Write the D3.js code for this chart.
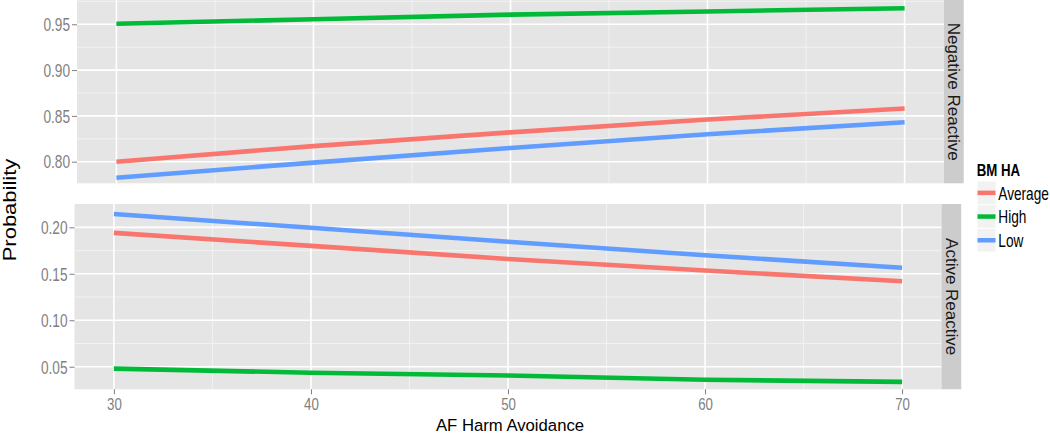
<!DOCTYPE html>
<html><head><meta charset="utf-8">
<script src="https://cdn.jsdelivr.net/npm/d3@7"></script>
<style>body{margin:0;background:#fff}svg{display:block}text{font-family:"Liberation Sans",Arial,sans-serif}</style>
</head><body>
<svg id="chart" width="1050" height="435"></svg>
<script>
// ---- data ----
const xValues = [30, 40, 50, 60, 70];
const groups = ["Average", "High", "Low"];
const groupColors = ["#F8766D", "#00BA38", "#619CFF"];
const facets = ["Negative Reactive", "Active Reactive"];
// Negative Reactive panel
const negAverage = [0.800, 0.817, 0.832, 0.846, 0.858];
const negHigh    = [0.9505, 0.9555, 0.9605, 0.9640, 0.9675];
const negLow     = [0.7825, 0.799, 0.815, 0.830, 0.843];
// Active Reactive panel
const actAverage = [0.194, 0.180, 0.166, 0.1535, 0.142];
const actHigh    = [0.048, 0.0435, 0.0405, 0.036, 0.0337];
const actLow     = [0.2143, 0.1995, 0.1845, 0.170, 0.1565];
const xTicks = [30, 40, 50, 60, 70];
const xMinor = [35, 45, 55, 65];
const negTicks = [0.80, 0.85, 0.90, 0.95];
const negMinor = [0.825, 0.875, 0.925, 0.975];
const actTicks = [0.05, 0.10, 0.15, 0.20];
const actMinor = [0.075, 0.125, 0.175];
const xTitle = "AF Harm Avoidance";
const yTitle = "Probability";
const legendTitle = "BM HA";

// ---- layout ----
const svg = d3.select("#chart");
const SX = 0.78; // horizontal squeeze of text in the reference
const panels = [
  {name: facets[0], series: [negAverage, negHigh, negLow], ticks: negTicks, minor: negMinor,
   x0: 77, x1: 944, y0: 0, y1: 183.3, dom: [0.7764, 0.9765]},
  {name: facets[1], series: [actAverage, actHigh, actLow], ticks: actTicks, minor: actMinor,
   x0: 74.5, x1: 941.5, y0: 204, y1: 389.3, dom: [0.0257, 0.2251]}
];

panels.forEach((p, pi) => {
  const x = d3.scaleLinear().domain([28, 72]).range([p.x0, p.x1]);
  const y = d3.scaleLinear().domain(p.dom).range([p.y1, p.y0]);
  const g = svg.append("g");
  g.append("rect").attr("x", p.x0).attr("y", p.y0).attr("width", p.x1 - p.x0).attr("height", p.y1 - p.y0).attr("fill", "#E5E5E5");
  // minor grid
  g.selectAll(".mx").data(xMinor).join("line").attr("x1", d => x(d)).attr("x2", d => x(d)).attr("y1", p.y0).attr("y2", p.y1)
    .attr("stroke", "#F2F2F2").attr("stroke-width", 1);
  g.selectAll(".my").data(p.minor.filter(v => v > p.dom[0] && v < p.dom[1])).join("line").attr("x1", p.x0).attr("x2", p.x1)
    .attr("y1", d => y(d)).attr("y2", d => y(d)).attr("stroke", "#F2F2F2").attr("stroke-width", 1);
  // major grid
  g.selectAll(".Mx").data(xTicks).join("line").attr("x1", d => x(d)).attr("x2", d => x(d)).attr("y1", p.y0).attr("y2", p.y1)
    .attr("stroke", "#FFFFFF").attr("stroke-width", 1.6);
  g.selectAll(".My").data(p.ticks).join("line").attr("x1", p.x0).attr("x2", p.x1)
    .attr("y1", d => y(d)).attr("y2", d => y(d)).attr("stroke", "#FFFFFF").attr("stroke-width", 1.6);
  // lines
  const line = d3.line().x((d, i) => x(xValues[i])).y(d => y(d));
  p.series.forEach((s, si) => {
    g.append("path").datum(s).attr("d", line).attr("fill", "none").attr("stroke", groupColors[si]).attr("stroke-width", 4.6);
  });
  // y axis
  const ya = g.append("g").attr("transform", `translate(${p.x0},0)`)
    .call(d3.axisLeft(y).tickValues(p.ticks).tickFormat(d3.format(".2f")).tickSize(5).tickPadding(2));
  ya.select(".domain").remove();
  ya.selectAll("line").attr("stroke", "#7F7F7F");
  ya.selectAll("text").attr("fill", "#7F7F7F").style("font-size", "17.5px")
    .attr("x", -7 / SX).attr("transform", `scale(${SX},1)`).attr("dy", "0.36em");
  // x axis only on bottom panel
  if (pi === panels.length - 1) {
    const xa = g.append("g").attr("transform", `translate(0,${p.y1})`)
      .call(d3.axisBottom(x).tickValues(xTicks).tickSize(5).tickPadding(4));
    xa.select(".domain").remove();
    xa.selectAll("line").attr("stroke", "#7F7F7F");
    xa.selectAll("text").attr("fill", "#7F7F7F").style("font-size", "17px").attr("transform", `scale(${SX},1)`);
  }
  // strip
  g.append("rect").attr("x", p.x1).attr("y", p.y0).attr("width", 19.7).attr("height", p.y1 - p.y0).attr("fill", "#CCCCCC");
  g.append("text").attr("transform", `translate(${p.x1 + 4.2},${(p.y0 + p.y1) / 2}) rotate(90)`)
    .attr("text-anchor", "middle").attr("fill", "#1A1A1A").style("font-size", "17px").text(p.name);
});

// axis titles
svg.append("text").attr("transform", "translate(510,431)").attr("text-anchor", "middle")
  .style("font-size", "16.7px").attr("fill", "#000").text(xTitle);
svg.append("text").attr("transform", "translate(16,210) scale(0.8,1) rotate(-90)").attr("text-anchor", "middle")
  .style("font-size", "22px").attr("fill", "#000").text(yTitle);

// legend
const lg = svg.append("g");
lg.append("text").attr("transform", `translate(976.7,175.7) scale(${SX},1)`).style("font-size", "17px").style("font-weight", "bold")
  .attr("fill", "#000").text(legendTitle);
const keyH = 23.7, keyTop = 181;
groups.forEach((gname, i) => {
  const ky = keyTop + i * keyH;
  lg.append("rect").attr("x", 977).attr("y", ky).attr("width", 19).attr("height", keyH).attr("fill", "#F2F2F2")
    .attr("stroke", "#FFFFFF").attr("stroke-width", 1);
  lg.append("line").attr("x1", 977.5).attr("x2", 995.5).attr("y1", ky + keyH / 2).attr("y2", ky + keyH / 2)
    .attr("stroke", groupColors[i]).attr("stroke-width", 4.5);
  lg.append("text").attr("transform", `translate(998.3,${ky + keyH / 2 + 6.8}) scale(${SX},1)`).style("font-size", "17.5px")
    .attr("fill", "#000").text(gname);
});
</script>
</body></html>
